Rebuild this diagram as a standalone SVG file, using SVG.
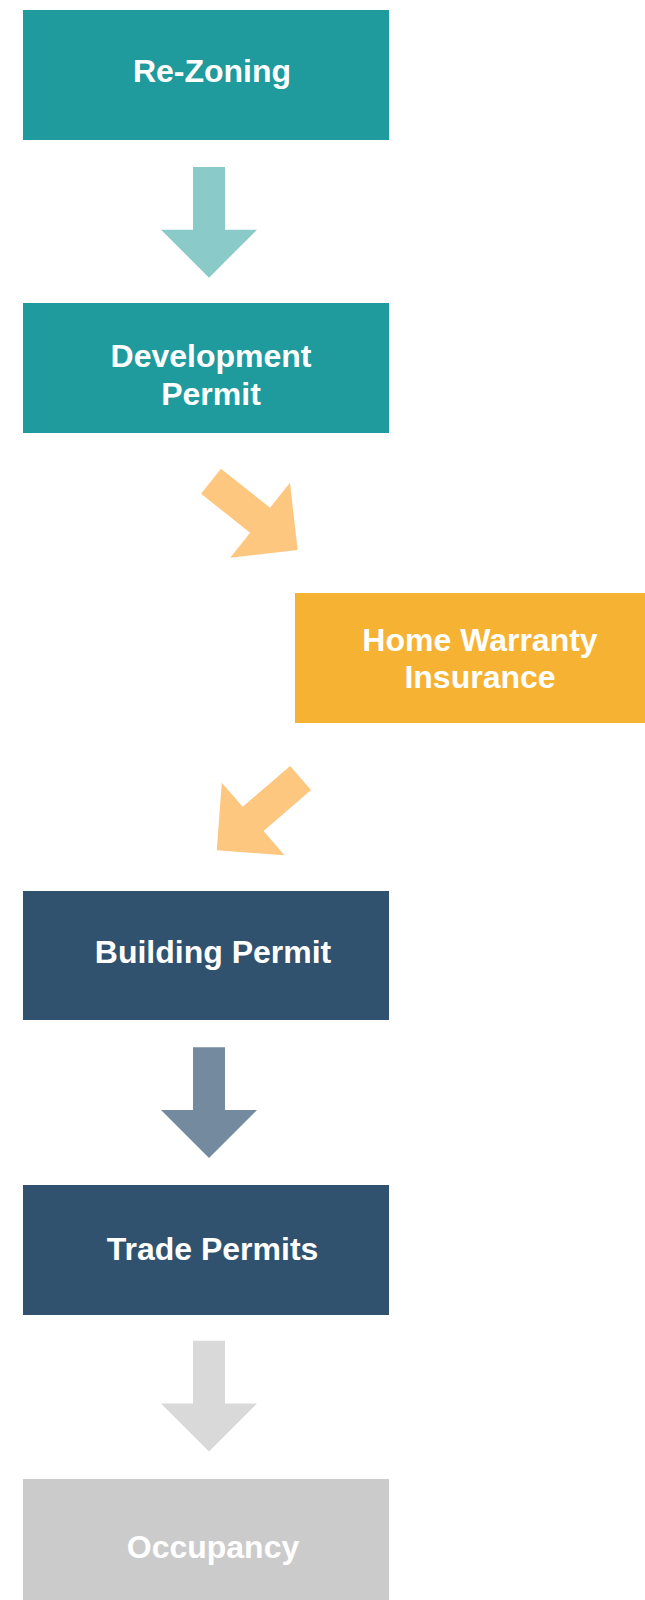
<svg xmlns="http://www.w3.org/2000/svg" width="645" height="1600" viewBox="0 0 645 1600">
  <style>
    .label { font-family: "Liberation Sans", Arial, sans-serif; font-weight: bold; font-size: 32px; fill: #ffffff; text-anchor: middle; }
    .teal { fill: #209b9d; }
    .orange { fill: #f6b333; }
    .navy { fill: #31526e; }
    .grey { fill: #cbcbcb; }
  </style>
  <defs>
    <!-- block arrow, tail centre at origin, pointing down (+y) -->
    <path id="blockArrow" d="M-16,0 H16 V62.7 H48 L0,110.7 L-48,62.7 H-16 Z"/>
  </defs>

  <rect width="645" height="1600" fill="#ffffff"/>

  <g id="connectors">
    <use href="#blockArrow" transform="translate(209,167)" fill="#8acac8"/>
    <use href="#blockArrow" transform="translate(211,481.2) rotate(-51.5)" fill="#fdc77f"/>
    <use href="#blockArrow" transform="translate(300.6,778) rotate(49.2)" fill="#fdc77f"/>
    <use href="#blockArrow" transform="translate(209,1047.3)" fill="#738a9f"/>
    <use href="#blockArrow" transform="translate(209,1340.7)" fill="#d9d9d9"/>
  </g>

  <g id="re-zoning">
    <rect class="teal" x="23" y="10" width="366" height="130"/>
    <text class="label" x="212" y="82">Re-Zoning</text>
  </g>

  <g id="development-permit">
    <rect class="teal" x="23" y="303" width="366" height="130"/>
    <text class="label" x="211" y="367">Development</text>
    <text class="label" x="211" y="405">Permit</text>
  </g>

  <g id="home-warranty-insurance">
    <rect class="orange" x="295" y="593" width="366" height="130"/>
    <text class="label" x="480" y="651">Home Warranty</text>
    <text class="label" x="480" y="688">Insurance</text>
  </g>

  <g id="building-permit">
    <rect class="navy" x="23" y="891" width="366" height="129"/>
    <text class="label" x="213" y="962.5">Building Permit</text>
  </g>

  <g id="trade-permits">
    <rect class="navy" x="23" y="1185" width="366" height="130"/>
    <text class="label" x="212.5" y="1260">Trade Permits</text>
  </g>

  <g id="occupancy">
    <rect class="grey" x="23" y="1479" width="366" height="130"/>
    <text class="label" x="213" y="1558">Occupancy</text>
  </g>
</svg>
